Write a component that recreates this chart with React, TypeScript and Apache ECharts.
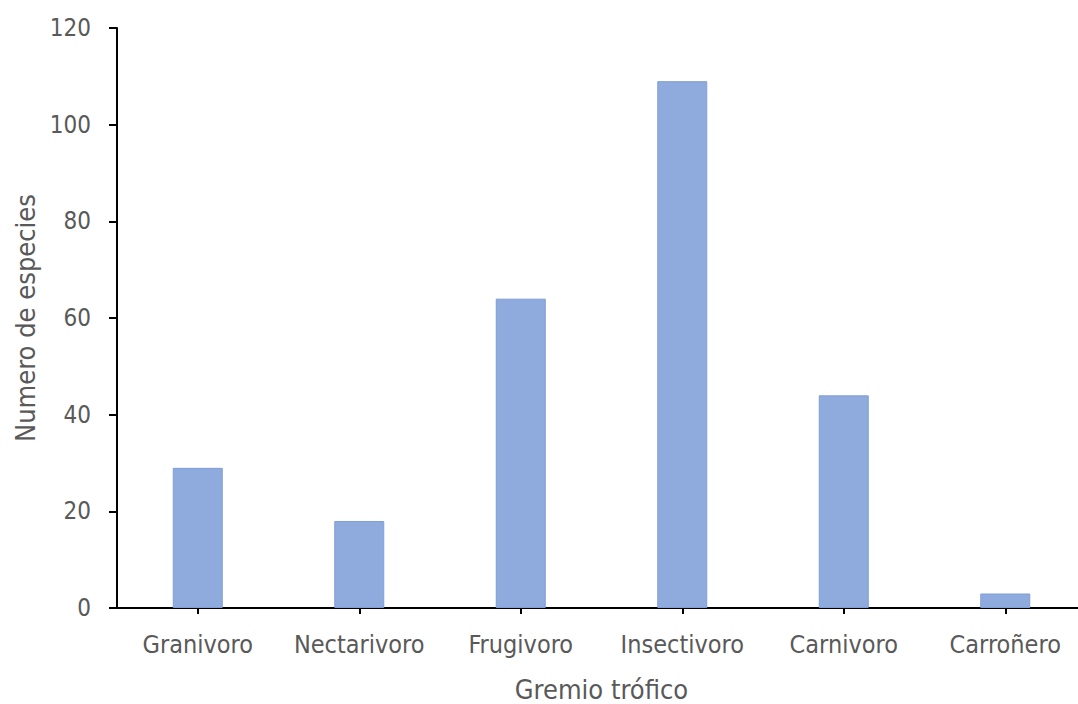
import React, { useEffect, useRef } from "react";
import * as echarts from "echarts";

const categories = ["Granivoro", "Nectarivoro", "Frugivoro", "Insectivoro", "Carnivoro", "Carroñero"];
const speciesCounts = [29, 18, 64, 109, 44, 3];
const yTicks = { min: 0, max: 120, interval: 20 };

const FONT = "'Liberation Sans Narrow', 'Arial Narrow', 'DejaVu Sans Condensed', 'Liberation Sans', sans-serif";
const TEXT = "#595959";

export default function App() {
  const ref = useRef<HTMLDivElement>(null);
  useEffect(() => {
    if (!ref.current) return;
    const chart = echarts.init(ref.current, undefined, { renderer: "svg" });
    chart.setOption({
      animation: false,
      backgroundColor: "#ffffff",
      grid: { left: 117, top: 28, right: 14, bottom: 96, containLabel: false, outerBoundsMode: "none" },
      xAxis: {
        type: "category",
        data: categories,
        name: "Gremio trófico",
        nameLocation: "middle",
        nameGap: 68,
        nameTextStyle: { fontFamily: FONT, fontSize: 27, color: TEXT },
        axisLine: { lineStyle: { color: "#000000", width: 2 } },
        axisTick: { show: true, alignWithLabel: true, length: 6, lineStyle: { color: "#000000", width: 2 } },
        axisLabel: { fontFamily: FONT, fontSize: 25, color: TEXT, margin: 24, interval: 0 },
        splitLine: { show: false },
      },
      yAxis: {
        type: "value",
        min: yTicks.min,
        max: yTicks.max,
        interval: yTicks.interval,
        name: "Numero de especies",
        nameLocation: "middle",
        nameRotate: 90,
        nameGap: 78,
        nameTextStyle: { fontFamily: FONT, fontSize: 27, color: TEXT },
        axisLine: { show: true, lineStyle: { color: "#000000", width: 2 } },
        axisTick: { show: true, length: 8, lineStyle: { color: "#000000", width: 2 } },
        axisLabel: { fontFamily: FONT, fontSize: 24, color: TEXT, margin: 26 },
        splitLine: { show: false },
      },
      series: [
        {
          type: "bar",
          data: speciesCounts,
          barWidth: 50,
          itemStyle: { color: "#8FAADC", borderColor: "#7f9ed6", borderWidth: 1 },
        },
      ],
    });
    return () => chart.dispose();
  }, []);
  return (
    <div style={{ position: "absolute", left: 0, top: 0, width: 1078, height: 704, overflow: "hidden", background: "#fff" }}>
      <div ref={ref} style={{ width: 1100, height: 704 }} />
    </div>
  );
}
